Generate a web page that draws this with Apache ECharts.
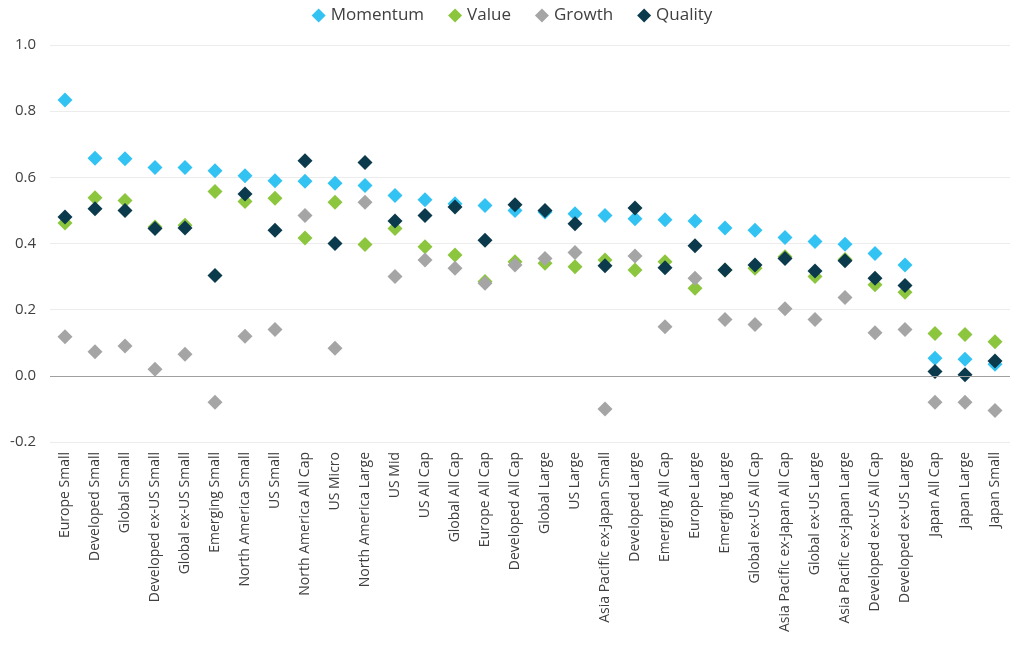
<!DOCTYPE html>
<html>
<head>
<meta charset="utf-8">
<script src="https://cdn.jsdelivr.net/npm/echarts@6/dist/echarts.min.js"></script>
<style>html,body{margin:0;padding:0;background:#fff}#chart{width:1024px;height:645px}</style>
</head>
<body>
<div id="chart"></div>
<script>
var categories = ['Europe Small', 'Developed Small', 'Global Small', 'Developed ex-US Small', 'Global ex-US Small',
  'Emerging Small', 'North America Small', 'US Small', 'North America All Cap', 'US Micro', 'North America Large',
  'US Mid', 'US All Cap', 'Global All Cap', 'Europe All Cap', 'Developed All Cap', 'Global Large', 'US Large',
  'Asia Pacific ex-Japan Small', 'Developed Large', 'Emerging All Cap', 'Europe Large', 'Emerging Large',
  'Global ex-US All Cap', 'Asia Pacific ex-Japan All Cap', 'Global ex-US Large', 'Asia Pacific ex-Japan Large',
  'Developed ex-US All Cap', 'Developed ex-US Large', 'Japan All Cap', 'Japan Large', 'Japan Small'];
var momentum = [0.834, 0.658, 0.656, 0.63, 0.63, 0.62, 0.605, 0.59, 0.588, 0.582, 0.575, 0.545, 0.532, 0.52, 0.515,
  0.50, 0.495, 0.49, 0.485, 0.475, 0.472, 0.468, 0.447, 0.44, 0.418, 0.406, 0.398, 0.37, 0.335, 0.053, 0.05, 0.035];
var value = [0.462, 0.538, 0.53, 0.45, 0.455, 0.557, 0.527, 0.537, 0.417, 0.525, 0.397, 0.445, 0.39, 0.365, 0.285,
  0.345, 0.34, 0.33, 0.35, 0.32, 0.345, 0.265, 0.32, 0.325, 0.36, 0.30, 0.352, 0.275, 0.253, 0.128, 0.125, 0.103];
var growth = [0.118, 0.073, 0.09, 0.02, 0.065, -0.08, 0.12, 0.14, 0.485, 0.083, 0.525, 0.30, 0.35, 0.325, 0.28,
  0.335, 0.355, 0.373, -0.1, 0.362, 0.148, 0.295, 0.17, 0.155, 0.203, 0.17, 0.237, 0.13, 0.14, -0.08, -0.08, -0.105];
var quality = [0.48, 0.505, 0.50, 0.445, 0.447, 0.303, 0.55, 0.44, 0.65, 0.40, 0.645, 0.468, 0.485, 0.51, 0.41,
  0.517, 0.50, 0.46, 0.333, 0.507, 0.327, 0.393, 0.32, 0.335, 0.355, 0.317, 0.348, 0.295, 0.273, 0.013, 0.003, 0.045];

var chart = echarts.init(document.getElementById('chart'));
function s(name, data, color) {
  return {
    name: name, type: 'scatter', data: data, symbol: 'diamond', symbolSize: 15,
    itemStyle: { color: color, opacity: 1 }
  };
}
chart.setOption({
  animation: false,
  textStyle: { fontFamily: 'Open Sans' },
  legend: {
    top: 2, left: 'center', itemGap: 24, itemWidth: 14, itemHeight: 14,
    textStyle: { fontSize: 17, color: '#404040' },
    data: ['Momentum', 'Value', 'Growth', 'Quality']
  },
  grid: { left: 50, right: 14, top: 45, bottom: 203 },
  xAxis: {
    type: 'category', data: categories, boundaryGap: true,
    axisLine: { show: false }, axisTick: { show: false },
    axisLabel: { rotate: 90, interval: 0, fontSize: 14, color: '#404040', margin: 10 }
  },
  yAxis: {
    type: 'value', min: -0.2, max: 1.0, interval: 0.2,
    axisLabel: { fontSize: 15, color: '#404040', margin: 14, formatter: function (v) { return v.toFixed(1); } },
    splitLine: { lineStyle: { color: '#ececec' } },
    axisLine: { show: false }, axisTick: { show: false }
  },
  series: [
    s('Momentum', momentum, '#33c3f2'),
    s('Value', value, '#8cc63e'),
    s('Growth', growth, '#a5a5a5'),
    Object.assign(s('Quality', quality, '#0b3a4c'), {
      markLine: { silent: true, symbol: 'none', label: { show: false },
        lineStyle: { color: '#a0a0a0', type: 'solid', width: 1 }, data: [{ yAxis: 0 }] }
    })
  ]
});
</script>
</body>
</html>
